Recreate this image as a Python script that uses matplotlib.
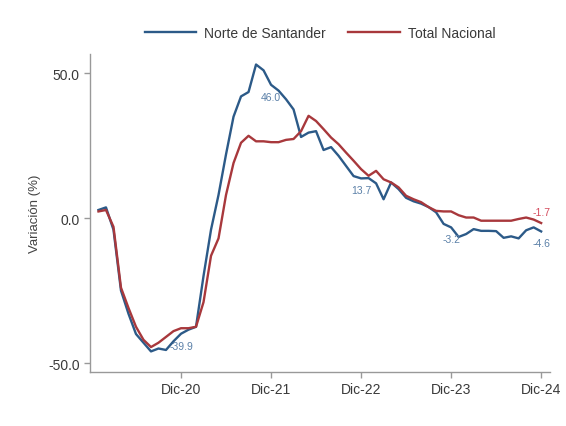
import matplotlib
matplotlib.use("Agg")
import matplotlib.pyplot as plt

plt.rcParams['font.family'] = ['Liberation Sans', 'DejaVu Sans']

# Variación anual mensual, ene-2020 a dic-2024
norte = [2.8, 3.7, -4, -25, -33, -40, -43, -46, -45, -45.5, -42.5, -39.9,
         -38.5, -37.5, -20, -4, 8, 22, 35, 42, 43.5, 53, 51, 46.0,
         44, 41, 37.5, 28, 29.5, 30, 23.5, 24.5, 21.5, 18, 14.5, 13.7,
         13.8, 12, 6.5, 12.3, 10, 7, 5.8, 5, 3.8, 2, -2, -3.2,
         -6.5, -5.5, -3.8, -4.4, -4.4, -4.5, -6.8, -6.3, -7, -4.2, -3.2, -4.6]
nacional = [2.3, 2.8, -3, -24, -31, -37.5, -42, -44.5, -43, -41, -39, -38,
            -38, -37.5, -29, -13, -7, 8, 19, 26, 28.4, 26.5, 26.5, 26.2,
            26.2, 27, 27.3, 30, 35.3, 33.5, 30.7, 27.8, 25.5, 22.6, 19.8, 16.9,
            14.6, 16.3, 13.4, 12.3, 10.6, 7.7, 6.5, 5.5, 3.8, 2.5, 2.3, 2.3,
            1.0, 0.2, 0.2, -0.9, -0.9, -0.9, -0.9, -0.9, -0.3, 0.2, -0.5, -1.7]
meses = list(range(len(norte)))

tick_pos = [11, 23, 35, 47, 59]
tick_lab = ["Dic-20", "Dic-21", "Dic-22", "Dic-23", "Dic-24"]
lab_norte = [11, 23, 35, 47, 59]   # puntos etiquetados (diciembres)
lab_nac = [59]

azul = "#2c5a88"
rojo = "#a8383c"

fig = plt.figure(figsize=(5.66, 4.27), dpi=100)
ax = fig.add_axes([0.159, 0.1265, 0.813, 0.7445])

ax.plot(meses, norte, color=azul, lw=1.7, label="Norte de Santander")
ax.plot(meses, nacional, color=rojo, lw=1.7, label="Total Nacional")

# etiquetas de valores
for i in lab_norte:
    ax.annotate(f"{norte[i]:.1f}", (meses[i], norte[i]), xytext=(0, -5),
                textcoords="offset points", ha="center", va="top",
                fontsize=7.5, color="#5b80a8")
for i in lab_nac:
    ax.annotate(f"{nacional[i]:.1f}", (meses[i], nacional[i]), xytext=(0, 4),
                textcoords="offset points", ha="center", va="bottom",
                fontsize=7.5, color="#d44a5c")

ax.set_xlim(-1.13, 60.2)
ax.set_ylim(-53.1, 56.6)
ax.set_xticks(tick_pos)
ax.set_xticklabels(tick_lab)
ax.set_yticks([-50, 0, 50])
ax.set_yticklabels([f"{v:.1f}" for v in [-50, 0, 50]])
ax.set_ylabel("Variación (%)", fontsize=9.5, color="#444444", labelpad=5)

for s in ["top", "right"]:
    ax.spines[s].set_visible(False)
for s in ["left", "bottom"]:
    ax.spines[s].set_color("#999999")
    ax.spines[s].set_linewidth(1.0)
ax.tick_params(axis="both", colors="#999999", labelcolor="#3a3a3a",
               labelsize=10, length=4, width=1)

ax.legend(loc="lower center", bbox_to_anchor=(0.5, 1.0), ncol=2, frameon=False,
          fontsize=10, handlelength=3.7, handletextpad=0.6, columnspacing=1.6,
          borderaxespad=0.6, labelcolor="#3a3a3a")

fig.savefig("out.png", dpi=100)
